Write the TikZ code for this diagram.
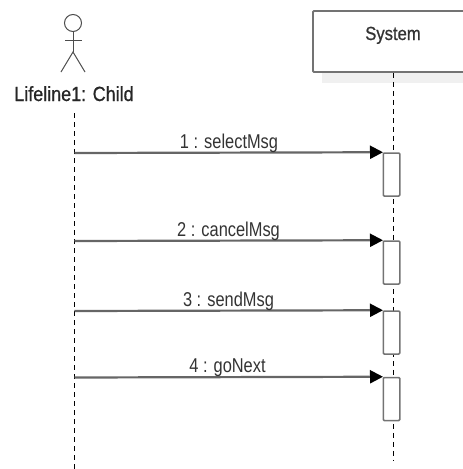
\documentclass[tikz,border=0pt]{standalone}
\usepackage{fontspec}
\setmainfont[FakeStretch=0.82]{Liberation Sans}
\newfontfamily\headfont[FakeStretch=0.875,FakeBold=0.8]{Liberation Sans}
\usetikzlibrary{arrows.meta}

\begin{document}
\begin{tikzpicture}[x=1pt, y=-1pt]

% Define styles for lifelines, boxes and messages
\tikzstyle{lifeline}=[draw=black, line width=1pt, dash pattern=on 5pt off 4pt]
\tikzstyle{stick}=[draw=black!70, line width=1pt]
\tikzstyle{objectbox}=[rectangle, draw=black!55, line width=1.8pt, rounded corners=1pt, fill=white, minimum width=160pt, inner sep=0pt, text height=29pt, text depth=32pt, font=\headfont\fontsize{19}{20}\selectfont, text=black!80]
\tikzstyle{activation}=[rectangle, draw=black!55, line width=1.5pt, rounded corners=1pt, fill=white, minimum width=16.5pt, minimum height=43pt, inner sep=0pt]
\tikzstyle{message}=[draw=black!60, line width=2.2pt, -{Triangle[length=13pt, width=13pt, color=black]}, shorten >=-0.5pt]
\tikzstyle{msglabel}=[font=\fontsize{20}{22}\selectfont, text=black!80, inner sep=0pt, anchor=base]

\clip (0,0) rectangle (463,469);

% The shadow under the object box
\fill[black!6] (322,72) rectangle (470,83);

% Actor
\node[circle, stick, minimum size=17pt, inner sep=0pt] (head) at (73,23) {};
\coordinate (hip) at (73,52);
\coordinate (armleft) at (65,40);
\coordinate (armright) at (81.5,40);
\coordinate (footleft) at (61,72);
\coordinate (footright) at (85,72);
\draw[stick] (head) -- (hip);
\draw[stick] (armleft) -- (armright);
\draw[stick] (footleft) -- (hip) -- (footright);
\node[font=\headfont\fontsize{20.5}{22}\selectfont, text=black!85, inner sep=0pt, anchor=base] (child) at (74,101) {Lifeline1: Child};

% Object
\node[objectbox] (system) at (393,41.5) {System};

% Lifelines
\coordinate (childtop) at (74.5,113);
\coordinate (childend) at (74.5,469);
\coordinate (systemend) at (393,460);
\draw[lifeline] (childtop) -- (childend);
\draw[lifeline] (system.south) -- (systemend);

% Activations
\node[activation] (act1) at (391.5,174.5) {};
\node[activation] (act2) at (391.5,262.5) {};
\node[activation] (act3) at (391.5,332.5) {};
\node[activation] (act4) at (391.5,399) {};

% Messages
\coordinate (start1) at (74.5,153);
\coordinate (start2) at (74.5,241);
\coordinate (start3) at (74.5,311);
\coordinate (start4) at (74.5,377.5);
\draw[message] (start1) -- (act1.north west);
\draw[message] (start2) -- (act2.north west);
\draw[message] (start3) -- (act3.north west);
\draw[message] (start4) -- (act4.north west);
\node[msglabel] (msg1) at (229,148) {1 : selectMsg};
\node[msglabel] (msg2) at (228.5,236) {2 : cancelMsg};
\node[msglabel] (msg3) at (228.5,306) {3 : sendMsg};
\node[msglabel] (msg4) at (227.5,372) {4 : goNext};

\end{tikzpicture}
\end{document}
